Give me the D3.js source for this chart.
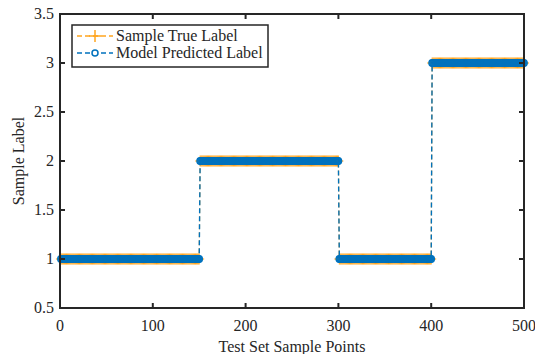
<!DOCTYPE html>
<html>
<head>
<meta charset="utf-8">
<script src="https://cdn.jsdelivr.net/npm/d3@7"></script>
<style>
  body { margin: 0; background: #fff; }
  text { font-family: "Liberation Serif", "Times New Roman", serif; fill: #262626; }
</style>
</head>
<body>
<svg id="chart" width="535" height="354"></svg>
<script>
// label runs: sample index ranges and their class
var runStart = [1, 151, 301, 401];
var runEnd = [150, 300, 400, 500];
var trueRunLabel = [1, 2, 1, 3];
var predRunLabel = [1, 2, 1, 3];

var xTicks = [0, 100, 200, 300, 400, 500];
var yTicks = [0.5, 1, 1.5, 2, 2.5, 3, 3.5];
var legendNames = ["Sample True Label", "Model Predicted Label"];

// expand runs into one point per test sample
function expand(labels) {
    var pts = [];
    for (let i = 0; i < runStart.length; i++) {
        for (let k = runStart[i]; k <= runEnd[i]; k++) {
            pts.push({x: k, y: labels[i]});
        }
    }
    return pts;
}
var truePts = expand(trueRunLabel);
var predPts = expand(predRunLabel);

var orange = "#FFA51F",
    blue = "#0072BD",
    axisCol = "#262626";

var svg = d3.select("#chart"),
    pLeft = 60, pRight = 524, pTop = 14, pBottom = 308;

var x = d3.scaleLinear().domain([0, 500]).range([pLeft, pRight]);
var y = d3.scaleLinear().domain([0.5, 3.5]).range([pBottom, pTop]);

var line = d3.line().x(d => x(d.x)).y(d => y(d.y));

// true label: dashed orange line with + markers
svg.append("path")
    .datum(truePts)
    .attr("d", line)
    .attr("fill", "none")
    .attr("stroke", orange)
    .attr("stroke-width", 1.2)
    .attr("stroke-dasharray", "5,3");

svg.append("g")
    .selectAll("path")
    .data(truePts)
    .enter().append("path")
    .attr("d", d => "M" + (x(d.x) - 5) + "," + y(d.y) + "h10M" + x(d.x) + "," + (y(d.y) - 5.5) + "v11")
    .attr("stroke", orange)
    .attr("stroke-width", 1);

// predicted label: dashed blue line with circle markers
svg.append("path")
    .datum(predPts)
    .attr("d", line)
    .attr("fill", "none")
    .attr("stroke", blue)
    .attr("stroke-width", 1.4)
    .attr("stroke-dasharray", "5,3");

svg.append("g")
    .selectAll("circle")
    .data(predPts)
    .enter().append("circle")
    .attr("cx", d => x(d.x))
    .attr("cy", d => y(d.y))
    .attr("r", 3.2)
    .attr("fill", "none")
    .attr("stroke", blue)
    .attr("stroke-width", 1.4);

// axes box with inward ticks on all sides
var frame = svg.append("g");
frame.append("rect")
    .attr("x", pLeft).attr("y", pTop)
    .attr("width", pRight - pLeft).attr("height", pBottom - pTop)
    .attr("fill", "none")
    .attr("stroke", axisCol)
    .attr("stroke-width", 2);

frame.selectAll(".xt")
    .data(xTicks.slice(1, -1))
    .enter().append("path")
    .attr("d", d => "M" + x(d) + "," + pBottom + "v-5M" + x(d) + "," + pTop + "v5")
    .attr("stroke", axisCol).attr("stroke-width", 2);

frame.selectAll(".yt")
    .data(yTicks.slice(1, -1))
    .enter().append("path")
    .attr("d", d => "M" + pLeft + "," + y(d) + "h5M" + pRight + "," + y(d) + "h-5")
    .attr("stroke", axisCol).attr("stroke-width", 2);

svg.selectAll(".xl")
    .data(xTicks)
    .enter().append("text")
    .attr("x", d => x(d))
    .attr("y", pBottom + 23)
    .attr("text-anchor", "middle")
    .style("font-size", "16px")
    .text(d => d);

svg.selectAll(".yl")
    .data(yTicks)
    .enter().append("text")
    .attr("x", pLeft - 6)
    .attr("y", d => y(d) + 5)
    .attr("text-anchor", "end")
    .style("font-size", "16px")
    .text(d => d);

svg.append("text")
    .attr("x", (pLeft + pRight) / 2)
    .attr("y", 352)
    .attr("text-anchor", "middle")
    .style("font-size", "16px")
    .text("Test Set Sample Points");

svg.append("text")
    .attr("transform", "translate(24," + (pTop + pBottom) / 2 + ") rotate(-90)")
    .attr("text-anchor", "middle")
    .style("font-size", "16px")
    .text("Sample Label");

// legend
var lg = svg.append("g");
lg.append("rect")
    .attr("x", 72).attr("y", 25)
    .attr("width", 196).attr("height", 42)
    .attr("fill", "#fff")
    .attr("stroke", axisCol)
    .attr("stroke-width", 1.5);

var rows = [36, 53];
[orange, blue].forEach(function (c, i) {
    lg.append("path")
        .attr("d", "M77," + rows[i] + "H113")
        .attr("stroke", c)
        .attr("stroke-width", 1.5)
        .attr("stroke-dasharray", "5,3");
    if (i === 0) {
        lg.append("path")
            .attr("d", "M89," + rows[i] + "h12M95," + (rows[i] - 6) + "v12")
            .attr("stroke", c).attr("stroke-width", 1.5);
    } else {
        lg.append("circle")
            .attr("cx", 95).attr("cy", rows[i]).attr("r", 3)
            .attr("fill", "#fff").attr("stroke", c).attr("stroke-width", 1.5);
    }
    lg.append("text")
        .attr("x", 116)
        .attr("y", rows[i] + 5)
        .style("font-size", "16px")
        .text(legendNames[i]);
});
</script>
</body>
</html>
